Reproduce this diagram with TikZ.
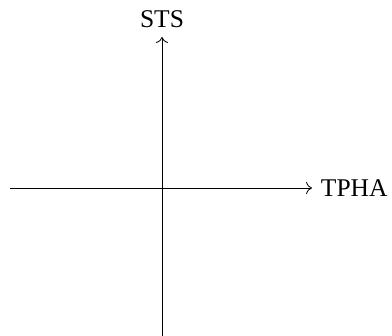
\documentclass[tikz,border=0pt]{standalone}
\usepackage{fontspec}
\setmainfont{Liberation Serif}
\usetikzlibrary{arrows.meta,positioning}

\begin{document}
\begin{tikzpicture}[
    x=0.392pt, y=-0.392pt,
    >=To,
    axis/.style={->, line width=0.32pt, draw=black},
    axislabel/.style={inner sep=3.3pt, font=\normalsize}
]
\useasboundingbox (0,0) rectangle (392,336);

% Axis ends
\coordinate (origin) at (162,188);
\coordinate (west) at (10,188);
\coordinate (east) at (312,188);
\coordinate (south) at (162,336);
\coordinate (north) at (162,37);

% Labels
\node[axislabel, right=0pt of east] (tpha) {TPHA};
\node[axislabel, above=0pt of north] (sts) {STS};

% Axes
\draw[axis] (west) -- (east);
\draw[axis] (south) -- (north);

\end{tikzpicture}
\end{document}
